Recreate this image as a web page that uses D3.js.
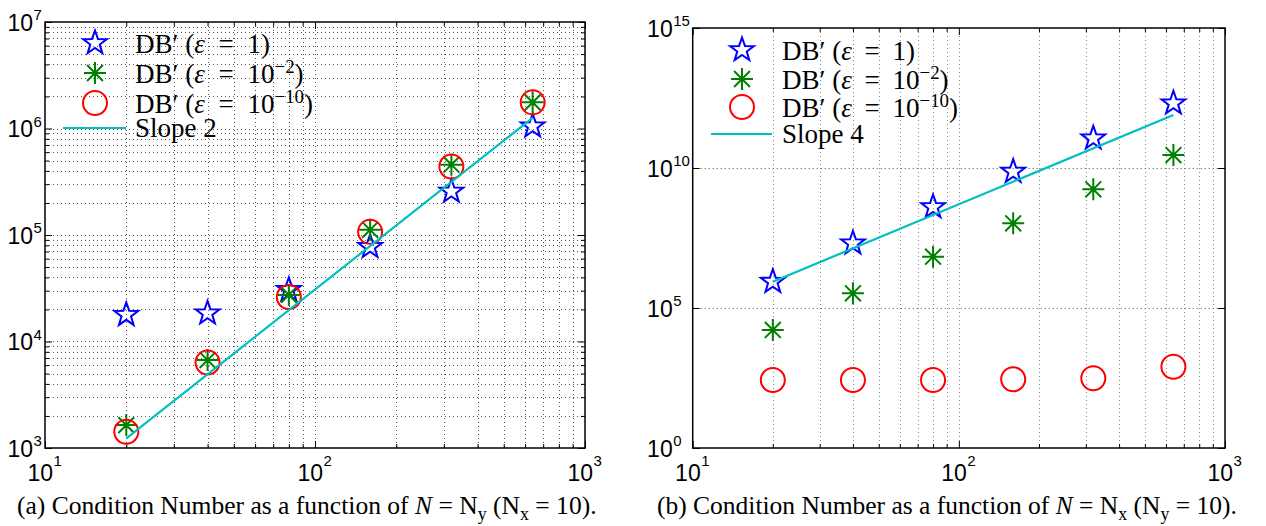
<!DOCTYPE html>
<html><head><meta charset="utf-8">
<script src="https://cdn.jsdelivr.net/npm/d3@7"></script>
<style>body{margin:0;background:#fff} svg{display:block}</style>
</head><body><svg id="c" width="1266" height="526"></svg>
<script>
// ---------- data ----------
const N = [20, 40, 80, 160, 320, 640];
// panel (a): condition number vs N = Ny
const aEps1   = [1.78e4, 1.84e4, 3.05e4, 7.75e4, 2.56e5, 1.05e6];
const aEps2   = [1.64e3, 6.7e3, 2.74e4, 1.12e5, 4.57e5, 1.76e6];
const aEps10  = [1.42e3, 6.34e3, 2.62e4, 1.07e5, 4.40e5, 1.76e6];
const slopeN  = [20, 640];
const aSlope  = [1.23e3, 1.26e6];
// panel (b): condition number vs N = Nx
const bEps1   = [8.7e5, 2.05e7, 4.05e8, 7.4e9, 1.15e11, 2.05e12];
const bEps2   = [1.64e4, 3.35e5, 6.8e6, 1.06e8, 1.73e9, 2.91e10];
const bEps10  = [268, 268, 268, 284, 309, 801];
const bSlope  = [8.7e5, 7.8e11];
// tick labels (exponents of 10)
const xTickExp  = [1, 2, 3];
const aYTickExp = [3, 4, 5, 6, 7];
const bYTickExp = [0, 5, 10, 15];
const aSlopeLabel = "Slope 2";
const bSlopeLabel = "Slope 4";
const captionA = [["(a) Condition Number as a function of "],["N","it"],[" = N"],["y","sub"],[" (N"],["x","sub"],[" = 10)."]];
const captionB = [["(b) Condition Number as a function of "],["N","it"],[" = N"],["x","sub"],[" (N"],["y","sub"],[" = 10)."]];
const legendLabels = [
  [["DB"],["′"],[" ("],["ε","it"],["=","eq"],["1)"]],
  [["DB"],["′"],[" ("],["ε","it"],["=","eq"],["10"],["−2","sup"],[")"]],
  [["DB"],["′"],[" ("],["ε","it"],["=","eq"],["10"],["−10","sup"],[")"]]
];

// ---------- styles ----------
const BLUE = "#0000ff", GREEN = "#008000", RED = "#ff0000", CYAN = "#00bfbf";
const SANS = "'Liberation Sans', Arial, Helvetica, sans-serif";
const SERIF = "'Liberation Serif', 'Times New Roman', serif";

const svg = d3.select("#c");
svg.append("rect").attr("width",1266).attr("height",526).attr("fill","#fff");

function rich(text, parts, fs, eqGap) {
  let shift = 0, pendingDx = 0;
  parts.forEach(([s, st]) => {
    const t = text.append("tspan").text(s);
    let target = 0;
    if (st === "it") t.attr("font-style","italic");
    if (st === "sup") { target = -0.36*fs; t.attr("font-size", fs*0.7); }
    if (st === "sub") { target = 0.25*fs; t.attr("font-size", fs*0.7); }
    if (target !== shift) { t.attr("dy", target - shift); shift = target; }
    let dx = pendingDx; pendingDx = 0;
    if (st === "eq") { dx += (eqGap||0); pendingDx = (eqGap||0); }
    if (dx) t.attr("dx", dx);
  });
}

function starPath(R){
  const pts = [];
  for (let i=0;i<10;i++){
    const a = -Math.PI/2 + i*Math.PI/5;
    const r = i%2===0 ? R : R*0.40;
    pts.push([r*Math.cos(a), r*Math.sin(a)]);
  }
  return "M" + pts.map(p=>p[0].toFixed(2)+","+p[1].toFixed(2)).join("L") + "Z";
}
function asterPath(r){
  const d = r*0.72;
  return `M${-r},0L${r},0M0,${-r}L0,${r}M${-d},${-d}L${d},${d}M${-d},${d}L${d},${-d}`;
}
function drawMarker(g, kind, x, y){
  if (kind==="star") g.append("path").attr("d", starPath(12.5)).attr("transform",`translate(${x},${y})`)
      .attr("fill","none").attr("stroke",BLUE).attr("stroke-width",2).attr("stroke-linejoin","miter");
  if (kind==="aster") g.append("path").attr("d", asterPath(11)).attr("transform",`translate(${x},${y})`)
      .attr("fill","none").attr("stroke",GREEN).attr("stroke-width",2);
  if (kind==="circle") g.append("circle").attr("cx",x).attr("cy",y).attr("r",12)
      .attr("fill","none").attr("stroke",RED).attr("stroke-width",2);
}

function panel(cfg){
  const g = svg.append("g");
  const x = d3.scaleLog().domain([10,1000]).range([cfg.x0, cfg.x1]);
  const y = d3.scaleLog().domain(cfg.ydom).range([cfg.y1, cfg.y0]);
  const xMajor = xTickExp.map(e=>Math.pow(10,e));
  const xMinor = x.ticks().filter(v=>!xMajor.some(m=>Math.abs(m-v)<1e-9));
  const yMajor = cfg.yExp.map(e=>Math.pow(10,e));
  let yMinor = [];
  if (cfg.yMinor) yMinor = y.ticks().filter(v=>!yMajor.some(m=>Math.abs(m/v-1)<1e-9));

  // grid
  const grid = g.append("g").attr("fill","none").attr("stroke-dasharray","1,3").attr("stroke-width",1);
  xMinor.concat(xMajor.slice(1,-1)).forEach(v=>{
    grid.append("line").attr("x1",Math.round(x(v))+0.5).attr("x2",Math.round(x(v))+0.5)
      .attr("y1",cfg.y0).attr("y2",cfg.y1).attr("stroke", cfg.xGridColor);
  });
  yMinor.concat(yMajor.slice(1,-1)).forEach(v=>{
    grid.append("line").attr("y1",Math.round(y(v))+0.5).attr("y2",Math.round(y(v))+0.5)
      .attr("x1",cfg.x0).attr("x2",cfg.x1).attr("stroke", cfg.yGridColor);
  });

  // ticks (inside) via d3 axes
  const tick = (axisFn, scale, vals, len, tr) => {
    const a = g.append("g").attr("transform", tr)
      .call(axisFn(scale).tickValues(vals).tickSize(-len).tickFormat(""));
    a.select(".domain").remove();
    a.selectAll("line").attr("stroke","#000").attr("stroke-width",1);
  };
  [[xMajor,7],[xMinor,4]].forEach(([vals,len])=>{
    tick(d3.axisBottom, x, vals, len, `translate(0,${cfg.y1})`);
    tick(d3.axisTop, x, vals, len, `translate(0,${cfg.y0})`);
  });
  [[yMajor,7],[yMinor,4]].forEach(([vals,len])=>{
    if (!vals.length) return;
    tick(d3.axisLeft, y, vals, len, `translate(${cfg.x0},0)`);
    tick(d3.axisRight, y, vals, len, `translate(${cfg.x1},0)`);
  });

  // box
  g.append("rect").attr("x",cfg.x0).attr("y",cfg.y0).attr("width",cfg.x1-cfg.x0).attr("height",cfg.y1-cfg.y0)
    .attr("fill","none").attr("stroke","#000").attr("stroke-width",1.5);

  // tick labels
  const lab = g.append("g").attr("font-family",SANS).attr("fill","#000");
  xTickExp.forEach(e=>{
    const px = x(Math.pow(10,e));
    lab.append("text").attr("x",px+8).attr("y",cfg.y1+33).attr("text-anchor","end").attr("font-size",23).text("10");
    lab.append("text").attr("x",px+8.5).attr("y",cfg.y1+18).attr("font-size",15).text(String(e));
  });
  cfg.yExp.forEach(e=>{
    const py = y(Math.pow(10,e));
    lab.append("text").attr("x",cfg.x0-cfg.labGap).attr("y",py+8.5).attr("text-anchor","end").attr("font-size",23).text("10");
    lab.append("text").attr("x",cfg.x0-cfg.labGap+0.5).attr("y",py-2).attr("font-size",15).text(String(e));
  });

  // data
  const marks = g.append("g");
  cfg.s1.forEach((v,i)=>drawMarker(marks,"star",x(N[i]),y(v)));
  cfg.s2.forEach((v,i)=>drawMarker(marks,"aster",x(N[i]),y(v)));
  cfg.s3.forEach((v,i)=>drawMarker(marks,"circle",x(N[i]),y(v)));
  const line = d3.line().x(d=>x(d[0])).y(d=>y(d[1]));
  marks.append("path").attr("d", line(slopeN.map((n,i)=>[n,cfg.slope[i]])))
    .attr("fill","none").attr("stroke",CYAN).attr("stroke-width",2.2);

  // legend
  const L = cfg.leg, lg = g.append("g");
  // measure the first entry without extra gaps, then space the "=" like math typesetting
  const probe = lg.append("text").attr("font-family",SERIF).attr("font-size",L.fs);
  rich(probe, legendLabels[0], L.fs, 0);
  const gap = Math.max(0, (L.w1 - probe.node().getComputedTextLength())/2);
  probe.remove();
  ["star","aster","circle"].forEach((k,i)=>{
    drawMarker(lg,k,L.mx,L.rows[i]);
    const t = lg.append("text").attr("x",L.tx).attr("y",L.rows[i]+9.5)
      .attr("font-family",SERIF).attr("font-size",L.fs).attr("fill","#000");
    rich(t, legendLabels[i], L.fs, gap);
  });
  lg.append("line").attr("x1",L.lx0).attr("x2",L.lx1).attr("y1",L.rows[3]).attr("y2",L.rows[3])
    .attr("stroke",CYAN).attr("stroke-width",2.2);
  lg.append("text").attr("x",L.tx).attr("y",L.rows[3]+8.5).attr("font-family",SERIF).attr("font-size",L.fs)
    .attr("fill","#000").text(cfg.slopeLabel);

  // caption
  const c = g.append("text").attr("x",cfg.capX).attr("y",514).attr("font-family",SERIF).attr("font-size",21).attr("fill","#000");
  rich(c, cfg.caption, 21);
  const w = c.node().getComputedTextLength();
  const fs = 21*cfg.capW/w;
  c.selectAll("*").remove(); c.attr("font-size",fs);
  rich(c, cfg.caption, fs);
}

panel({x0:45, x1:585, y0:22, y1:448, ydom:[1e3,1e7], yExp:aYTickExp, yMinor:true, labGap:12,
  xGridColor:"#555", yGridColor:"#555",
  s1:aEps1, s2:aEps2, s3:aEps10, slope:aSlope, slopeLabel:aSlopeLabel,
  leg:{mx:95, rows:[43,73,103,128], lx0:63, lx1:126, tx:135, fs:27, w1:135},
  caption:captionA, capX:17, capW:580});
panel({x0:692.7, x1:1225, y0:28, y1:448, ydom:[1,1e15], yExp:bYTickExp, yMinor:false, labGap:20,
  xGridColor:"#888", yGridColor:"#555",
  s1:bEps1, s2:bEps2, s3:bEps10, slope:bSlope, slopeLabel:bSlopeLabel,
  leg:{mx:742, rows:[50,79,107,134], lx0:711, lx1:772, tx:782, fs:27, w1:133},
  caption:captionB, capX:657, capW:580});
</script></body></html>
